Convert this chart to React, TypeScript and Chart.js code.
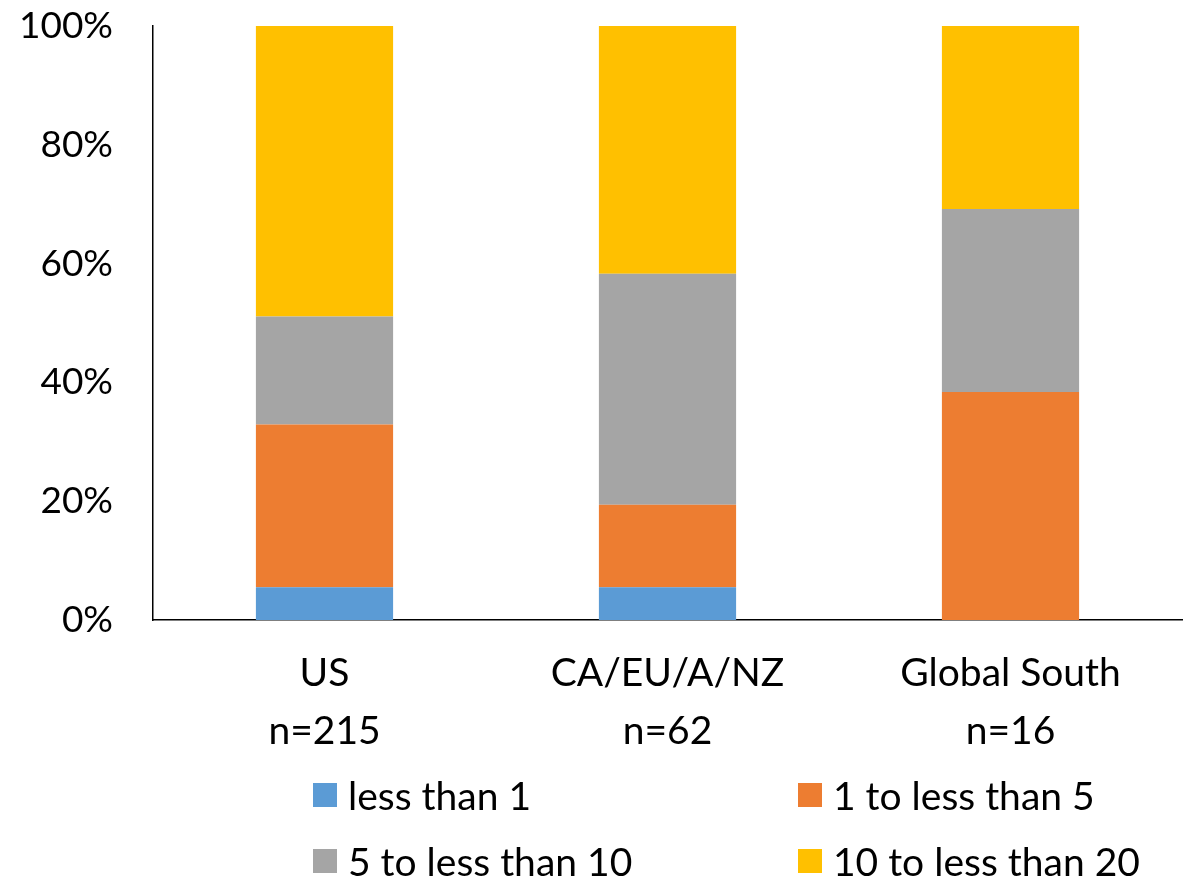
import React, { useEffect, useRef } from "react";
import { Chart, registerables } from "chart.js";

Chart.register(...registerables);

// Regions on the x axis, with the sample size shown under each name
const regions = ["US", "CA/EU/A/NZ", "Global South"];
const sampleSizes = ["n=215", "n=62", "n=16"];

// Share of respondents (%) in each band
const lessThan1 = [5.5, 5.5, 0];
const oneToFive = [27.4, 13.9, 38.4];
const fiveToTen = [18.2, 38.9, 30.8];
const tenToTwenty = [48.9, 41.7, 30.8];

const seriesLabels = ["less than 1", "1 to less than 5", "5 to less than 10", "10 to less than 20"];
const seriesColors = ["#5B9BD5", "#ED7D31", "#A5A5A5", "#FFC000"];

const yTicks = [0, 20, 40, 60, 80, 100];

const FONT = "Lato, 'Open Sans', sans-serif";

export default function App() {
  const canvasRef = useRef<HTMLCanvasElement | null>(null);

  useEffect(() => {
    const canvas = canvasRef.current;
    if (!canvas) return;
    const values = [lessThan1, oneToFive, fiveToTen, tenToTwenty];
    const chart = new Chart(canvas, {
      type: "bar",
      data: {
        labels: regions.map((r, i) => [r, sampleSizes[i]]),
        datasets: values.map((v, i) => ({
          label: seriesLabels[i],
          data: v,
          backgroundColor: seriesColors[i],
          borderWidth: 0,
          barPercentage: 0.4,
          categoryPercentage: 1,
        })),
      },
      options: {
        animation: false,
        responsive: false,
        maintainAspectRatio: false,
        layout: { padding: { top: 26, right: 10, left: 0, bottom: 0 } },
        plugins: {
          legend: { display: false },
          tooltip: { enabled: false },
        },
        scales: {
          x: {
            stacked: true,
            grid: { display: false, drawTicks: false, tickLength: 0 },
            border: { display: true, color: "#000", width: 1.5 },
            ticks: {
              color: "#000",
              padding: 24,
              maxRotation: 0,
              autoSkip: false,
              font: { family: FONT, size: 39, lineHeight: 1.49 },
            },
            afterFit: (scale: any) => {
              scale.height = 258;
              scale.paddingLeft = 0;
              scale.paddingRight = 0;
            },
          },
          y: {
            stacked: true,
            min: 0,
            max: 100,
            afterBuildTicks: (scale: any) => {
              scale.ticks = yTicks.map((v) => ({ value: v }));
            },
            grid: { display: false, drawTicks: false, tickLength: 0 },
            border: { display: true, color: "#000", width: 1.5 },
            ticks: {
              color: "#000",
              padding: 40,
              callback: (v: any) => `${v}%`,
              font: { family: FONT, size: 37 },
            },
            afterFit: (scale: any) => {
              scale.width = 153;
              scale.paddingTop = 0;
              scale.paddingBottom = 0;
            },
          },
        },
      },
    });
    return () => chart.destroy();
  }, []);

  const legendRows = [
    [0, 1],
    [2, 3],
  ];
  const colLeft = [313, 798];
  const rowTop = [783, 849];

  return (
    <div style={{ position: "fixed", left: 0, top: 0, width: 1192, height: 878, background: "#fff" }}>
      <canvas ref={canvasRef} width={1192} height={878} style={{ display: "block" }} />
      {legendRows.map((row, r) =>
        row.map((si, c) => (
          <div
            key={si}
            style={{
              position: "absolute",
              left: colLeft[c],
              top: rowTop[r],
              height: 24,
              display: "flex",
              alignItems: "center",
              whiteSpace: "nowrap",
              fontFamily: FONT,
              fontSize: 39,
              color: "#000",
            }}
          >
            <span style={{ width: 24, height: 24, background: seriesColors[si], display: "inline-block", marginRight: 11, flex: "none" }} />
            <span style={{ lineHeight: "24px" }}>{seriesLabels[si]}</span>
          </div>
        ))
      )}
    </div>
  );
}
